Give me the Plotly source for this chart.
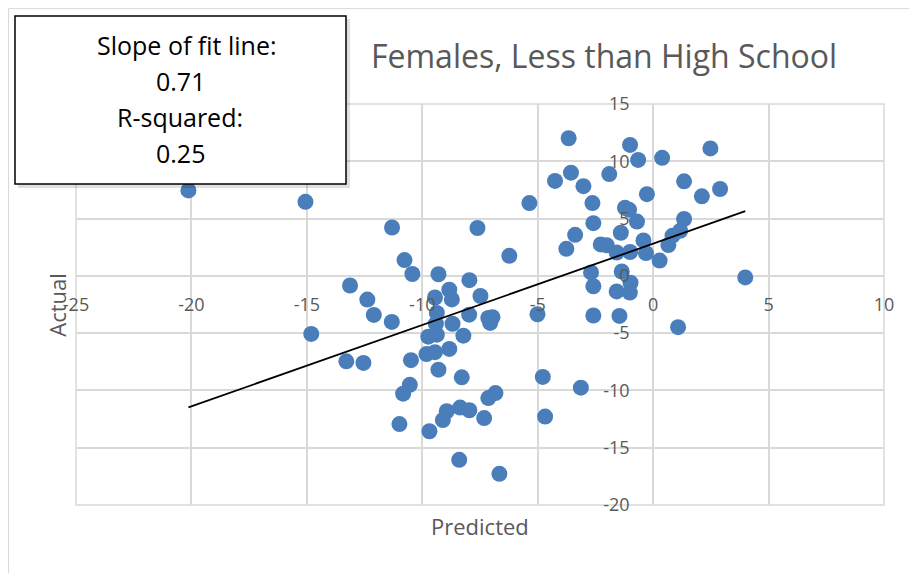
import plotly.graph_objects as go

# scatter data
predicted = [-20.13, -15.06, -11.31, -10.77, -10.43, -9.30, -7.96, -8.83, -8.72, -9.45,
             -7.48, -13.13, -12.38, -12.10, -11.32, -14.81, -13.29, -12.55, -9.37, -7.97,
             -7.14, -6.96, -7.06, -5.01, -8.69, -9.74, -9.37, -8.22, -9.82, -9.45,
             -8.83, -10.49, -9.30, -8.29, -4.78, -10.54, -10.83, -7.14, -6.83, -8.94,
             -8.36, -7.96, -9.11, -7.32, -4.68, -10.99, -9.69, -8.40, -6.66, -3.13,
             -6.23, -5.36, -7.61, -3.66, -1.00, -0.65, 0.39, 2.48, -3.56, -4.25,
             -3.02, -1.90, 1.34, 2.11, 2.90, -0.27, -2.63, -1.22, -1.04, -2.59,
             -0.70, 1.34, -3.38, -1.40, 1.17, 0.84, -0.42, -3.76, -2.27, -2.01,
             -1.58, -1.00, -0.31, 0.66, 0.28, -2.69, -1.36, 3.99, -0.98, -2.59,
             -1.58, -1.01, -2.59, -1.46, 1.08, -9.41]
actual = [7.46, 6.46, 4.22, 1.38, 0.16, 0.14, -0.38, -1.21, -2.06, -1.89,
          -1.76, -0.84, -2.07, -3.41, -4.02, -5.07, -7.46, -7.60, -3.24, -3.39,
          -3.68, -3.61, -4.11, -3.35, -4.18, -5.31, -5.13, -5.22, -6.83, -6.66,
          -6.38, -7.36, -8.19, -8.86, -8.82, -9.51, -10.28, -10.67, -10.23, -11.82,
          -11.50, -11.73, -12.59, -12.41, -12.28, -12.94, -13.56, -16.06, -17.28, -9.76,
          1.75, 6.35, 4.18, 12.01, 11.43, 10.12, 10.30, 11.12, 9.01, 8.29,
          7.83, 8.88, 8.25, 6.94, 7.58, 7.13, 6.35, 5.94, 5.76, 4.60,
          4.74, 4.96, 3.58, 3.76, 3.93, 3.51, 3.09, 2.36, 2.74, 2.67,
          2.04, 2.08, 1.99, 2.69, 1.33, 0.30, 0.38, -0.14, -0.60, -0.91,
          -1.36, -1.46, -3.46, -3.50, -4.48, -4.18]

fit_slope = 0.71
fit_intercept = 2.81
r_squared = 0.25

x_ticks = [-25, -20, -15, -10, -5, 0, 5, 10]
y_ticks = [-20, -15, -10, -5, 0, 5, 10, 15]

W, H = 917, 573
OFF = 8  # page body margin
L, R, T, B = 76, 884, 104, 505.5


def px(x):
    return (x - L) / (R - L)


def py(y):
    return (B - y) / (B - T)


fit_x = [min(predicted), max(predicted)]
fit_y = [fit_slope * v + fit_intercept for v in fit_x]

grey = '#595959'
font = 'Open Sans, Liberation Sans, sans-serif'

fig = go.Figure()
fig.add_trace(go.Scatter(x=predicted, y=actual, mode='markers',
                         marker=dict(size=16, color='#4a7ebb'), showlegend=False))
fig.add_trace(go.Scatter(x=fit_x, y=fit_y, mode='lines',
                         line=dict(color='black', width=1.8), showlegend=False))

axis_common = dict(showgrid=True, gridcolor='#d9d9d9', gridwidth=1.5, zeroline=False,
                   showline=False, ticks='outside', tickcolor='rgba(0,0,0,0)',
                   tickfont=dict(size=18, color=grey, family=font), anchor='free')

fig.update_xaxes(range=[-25, 10], tickvals=x_ticks, ticktext=[str(v) for v in x_ticks],
                 ticklen=13, position=20 / 35, **axis_common)
fig.update_yaxes(range=[-20, 15], tickvals=y_ticks, ticktext=[str(v) for v in y_ticks],
                 ticklen=20, position=25 / 35, **axis_common)

shapes = [
    # outer chart border
    dict(type='rect', xref='paper', yref='paper', x0=px(8.5), x1=px(930), y0=py(8.5), y1=py(590),
         line=dict(color='#d9d9d9', width=1), layer='below'),
    # plot frame
    dict(type='rect', xref='paper', yref='paper', x0=0, x1=1, y0=0, y1=1,
         line=dict(color='#d9d9d9', width=1.5), layer='below'),
    # text box shadow + box
    dict(type='rect', xref='paper', yref='paper', x0=px(18), x1=px(350), y0=py(19), y1=py(188),
         line=dict(width=0), fillcolor='rgba(0,0,0,0.12)'),
    dict(type='rect', xref='paper', yref='paper', x0=px(15), x1=px(346), y0=py(16), y1=py(184),
         line=dict(color='black', width=1.5), fillcolor='white'),
]

annotations = [
    dict(text='Females, Less than High School', x=px(604), y=py(55),
         font=dict(size=32, color=grey, family=font)),
    dict(text='Predicted', x=px(480), y=py(527),
         font=dict(size=22, color=grey, family=font)),
    dict(text='Actual', x=px(57), y=py(305), textangle=-90,
         font=dict(size=22, color=grey, family=font)),
]
box_lines = ['Slope of fit line:', f'{fit_slope:.2f}', 'R-squared:', f'{r_squared:.2f}']
box_y = [45, 81, 117, 153]
box_x = [187, 180, 180, 180]
for t, xx, yy in zip(box_lines, box_x, box_y):
    annotations.append(dict(text=t, x=px(xx), y=py(yy),
                            font=dict(size=25, color='black', family=font)))
for a in annotations:
    a.update(xref='paper', yref='paper', showarrow=False, xanchor='center', yanchor='middle')

fig.update_layout(width=W - OFF, height=H - OFF,
                  margin=dict(l=L - OFF, r=W - R, t=T - OFF, b=H - B),
                  paper_bgcolor='white', plot_bgcolor='white',
                  shapes=shapes, annotations=annotations)

fig.write_html("out.html")
